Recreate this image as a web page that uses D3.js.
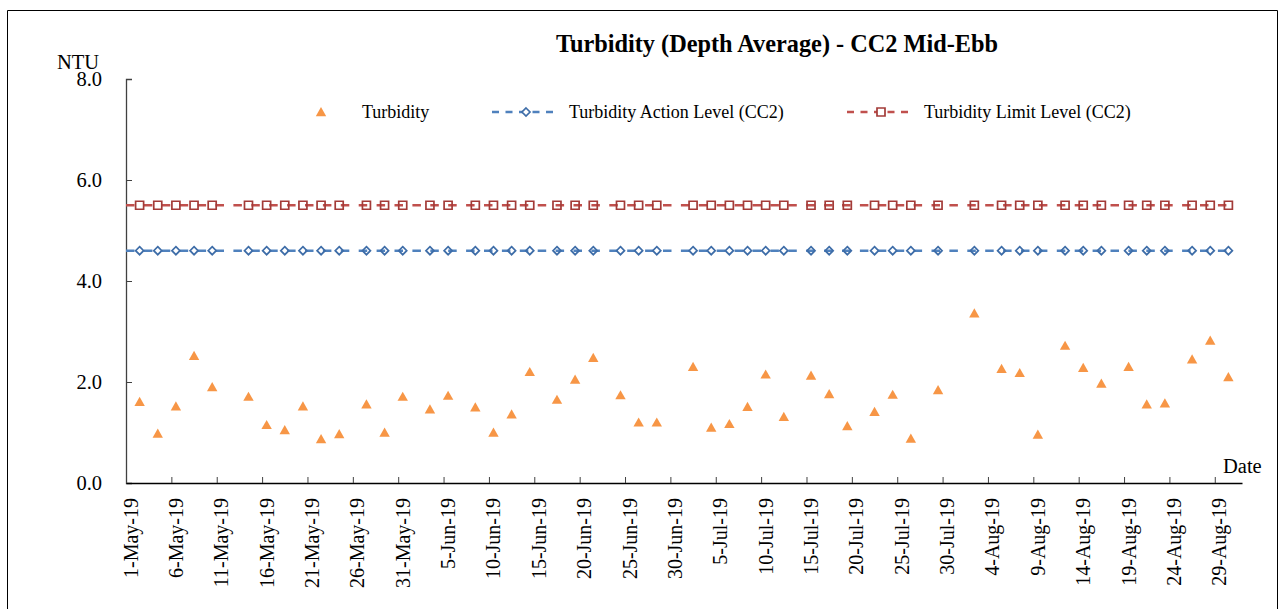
<!DOCTYPE html>
<html>
<head>
<meta charset="utf-8">
<script src="https://cdn.jsdelivr.net/npm/d3@7"></script>
<style>
  body { margin: 0; background: #fff; }
  svg { display: block; font-family: "Liberation Serif", "Times New Roman", serif; }
</style>
</head>
<body>
<svg id="chart" width="1280" height="609"></svg>
<script>
// sampling days and depth-average turbidity (NTU)
var sampleDates = ["2019-05-02","2019-05-04","2019-05-06","2019-05-08","2019-05-10",
  "2019-05-14","2019-05-16","2019-05-18","2019-05-20","2019-05-22","2019-05-24",
  "2019-05-27","2019-05-29","2019-05-31","2019-06-03","2019-06-05","2019-06-08",
  "2019-06-10","2019-06-12","2019-06-14","2019-06-17","2019-06-19","2019-06-21",
  "2019-06-24","2019-06-26","2019-06-28","2019-07-02","2019-07-04","2019-07-06",
  "2019-07-08","2019-07-10","2019-07-12","2019-07-15","2019-07-17","2019-07-19",
  "2019-07-22","2019-07-24","2019-07-26","2019-07-29","2019-08-02","2019-08-05",
  "2019-08-07","2019-08-09","2019-08-12","2019-08-14","2019-08-16","2019-08-19",
  "2019-08-21","2019-08-23","2019-08-26","2019-08-28","2019-08-30"];
var turbidity = [1.61,0.98,1.52,2.52,1.90,
  1.71,1.15,1.05,1.52,0.87,0.97,
  1.56,1.00,1.71,1.46,1.73,1.50,
  1.00,1.36,2.20,1.65,2.05,2.48,
  1.74,1.20,1.20,2.30,1.10,1.17,
  1.51,2.15,1.31,2.13,1.76,1.13,
  1.41,1.75,0.88,1.84,3.36,2.26,
  2.18,0.96,2.72,2.28,1.97,2.30,
  1.56,1.58,2.45,2.82,2.10];
var actionLevel = 4.6;
var limitLevel = 5.5;
var yTicks = [0, 2, 4, 6, 8];
var axisStart = "2019-05-01", axisEnd = "2019-09-01";
var tickStepDays = 5;

var parse = d3.timeParse("%Y-%m-%d");
var fmt = function(d) { return d3.timeFormat("%-d-%b-%y")(d); };

var svg = d3.select("#chart");
var plotL = 126, plotR = 1242, plotT = 79, plotB = 483;

var x = d3.scaleTime().domain([parse(axisStart), parse(axisEnd)]).range([plotL, plotR]);
var y = d3.scaleLinear().domain([0, 8]).range([plotB, plotT]);
// points sit in the middle of their day
var xc = function(d) { return x(d3.timeHour.offset(d, 12)); };

var data = sampleDates.map(function(s, i) { return { date: parse(s), v: turbidity[i] }; });

// outer border
svg.append("path").attr("d", "M7.5,609 V10.5 H1277.5 V609")
  .attr("fill", "none").attr("stroke", "#000").attr("stroke-width", 1);

svg.append("text").attr("x", 777).attr("y", 52).attr("text-anchor", "middle")
  .attr("font-size", 24.3).attr("font-weight", "bold")
  .text("Turbidity (Depth Average) - CC2 Mid-Ebb");

// y axis
var gy = svg.append("g").attr("transform", "translate(" + plotL + ",0)")
  .call(d3.axisLeft(y).tickValues(yTicks).tickSize(-6).tickPadding(24).tickFormat(d3.format(".1f")));
gy.select(".domain").attr("stroke", "#404040").attr("stroke-width", 1.3);
gy.selectAll(".tick line").attr("stroke", "#404040");
gy.selectAll("text").attr("font-size", 20.5).attr("font-family", "Liberation Serif").attr("fill", "#000");

// x axis
var tickDates = d3.range(0, 121, tickStepDays).map(function(i) { return d3.timeDay.offset(parse(axisStart), i); });
var gx = svg.append("g").attr("transform", "translate(0," + plotB + ")")
  .call(d3.axisBottom(x).tickValues(tickDates).tickSize(-6).tickSizeOuter(0).tickFormat(""));
gx.select(".domain").attr("stroke", "#000").attr("stroke-width", 1.3);
gx.selectAll(".tick line").attr("stroke", "#404040");
svg.append("g").selectAll("text").data(tickDates).enter().append("text")
  .attr("transform", function(d) { return "translate(" + (xc(d) + 7) + "," + (plotB + 15) + ") rotate(-90)"; })
  .attr("text-anchor", "end").attr("font-size", 20)
  .text(fmt);

svg.append("text").attr("x", 57).attr("y", 69).attr("font-size", 20.5).text("NTU");
svg.append("text").attr("x", 1223).attr("y", 473).attr("font-size", 20.5).text("Date");

// level lines
function levelLine(level, color) {
  var pts = [[x.range()[0], y(level)]].concat(data.map(function(d) { return [xc(d.date), y(level)]; }));
  svg.append("path").attr("d", d3.line()(pts))
    .attr("fill", "none").attr("stroke", color).attr("stroke-width", 2.4)
    .attr("stroke-dasharray", "8.5,9.4");
}
levelLine(actionLevel, "#4F81BD");
levelLine(limitLevel, "#C0504D");

var diamond = "M0,-4 L4,0 L0,4 L-4,0 Z";
var square = "M-4,-4 H4 V4 H-4 Z";
var tri = "M0,-5 L5.2,4.2 L-5.2,4.2 Z";

svg.append("g").selectAll("path").data(data).enter().append("path")
  .attr("d", diamond).attr("transform", function(d) { return "translate(" + xc(d.date) + "," + y(actionLevel) + ")"; })
  .attr("fill", "none").attr("stroke", "#3E6DA8").attr("stroke-width", 1.7);
svg.append("g").selectAll("path").data(data).enter().append("path")
  .attr("d", square).attr("transform", function(d) { return "translate(" + xc(d.date) + "," + y(limitLevel) + ")"; })
  .attr("fill", "none").attr("stroke", "#A33B38").attr("stroke-width", 1.7);
svg.append("g").selectAll("path").data(data).enter().append("path")
  .attr("d", tri).attr("transform", function(d) { return "translate(" + xc(d.date) + "," + y(d.v) + ")"; })
  .attr("fill", "#F79646");

// legend
var lg = svg.append("g").attr("font-size", 18);
lg.append("path").attr("d", tri).attr("transform", "translate(321,112)").attr("fill", "#F79646");
lg.append("text").attr("x", 362).attr("y", 118).text("Turbidity");
var legendLines = [
  { x0: 492, color: "#4F81BD", mk: "#3E6DA8", shape: diamond, label: "Turbidity Action Level (CC2)" },
  { x0: 847, color: "#C0504D", mk: "#A33B38", shape: square, label: "Turbidity Limit Level (CC2)" }
];
legendLines.forEach(function(l) {
  lg.append("path").attr("d", "M" + l.x0 + ",112 h66").attr("stroke", l.color)
    .attr("stroke-width", 2.4).attr("stroke-dasharray", "7,6.5").attr("fill", "none");
  lg.append("path").attr("d", l.shape).attr("transform", "translate(" + (l.x0 + 34) + ",112)")
    .attr("fill", "#fff").attr("stroke", l.mk).attr("stroke-width", 1.7);
  lg.append("text").attr("x", l.x0 + 77).attr("y", 118).text(l.label);
});
</script>
</body>
</html>
